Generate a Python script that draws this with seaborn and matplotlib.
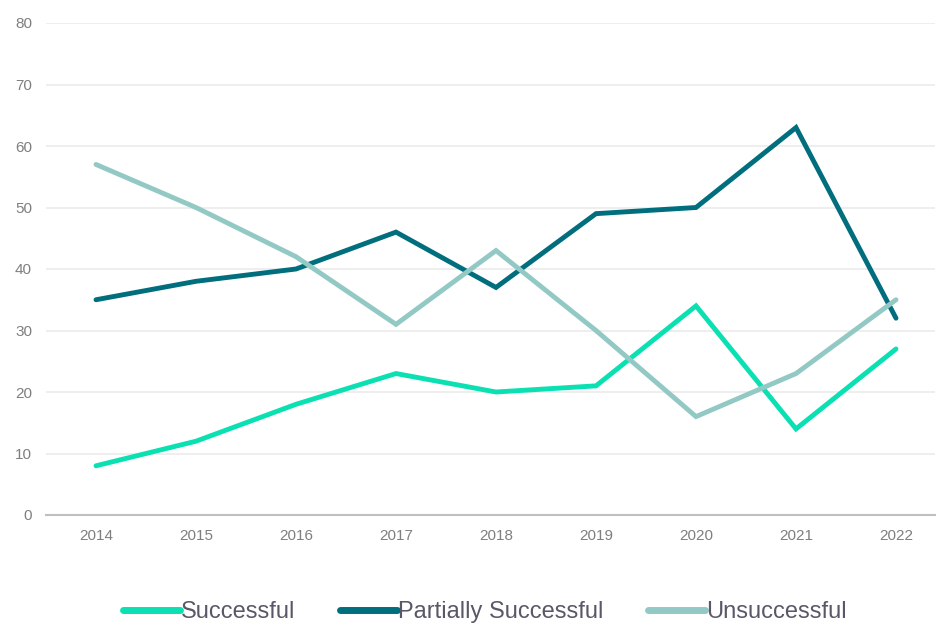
import matplotlib
matplotlib.use("Agg")
import matplotlib.pyplot as plt
import seaborn as sns
import pandas as pd

years = ["2014", "2015", "2016", "2017", "2018", "2019", "2020", "2021", "2022"]
successful = [8, 12, 18, 23, 20, 21, 34, 14, 27]
partially = [35, 38, 40, 46, 37, 49, 50, 63, 32]
unsuccessful = [57, 50, 42, 31, 43, 30, 16, 23, 35]
series_names = ["Successful", "Partially Successful", "Unsuccessful"]
colors = ["#0BE0B3", "#006E7D", "#93C9C4"]

df = pd.DataFrame({"Year": years * 3,
                   "Value": successful + partially + unsuccessful,
                   "Series": [s for s in series_names for _ in years]})

sns.set_style("white")
plt.rcParams['font.family'] = ['Liberation Sans', 'DejaVu Sans']

fig = plt.figure(figsize=(9.36, 6.26), dpi=100)
ax = fig.add_axes([46/936, 1 - 515/626, (935-46)/936, (515-23)/626])

sns.lineplot(data=df, x="Year", y="Value", hue="Series", palette=colors,
             linewidth=3.5, ax=ax, sort=False, legend=False)
for ln in ax.lines:
    ln.set_solid_capstyle("round")
    ln.set_solid_joinstyle("miter")

ax.set_ylim(0, 80)
ax.set_xlim(-0.5, 8.39)
ax.set_yticks(range(0, 81, 10))
ax.yaxis.grid(True, color="#EBEBEB", linewidth=1.2)
ax.set_axisbelow(True)
for s in ["top", "right", "left"]:
    ax.spines[s].set_visible(False)
ax.spines["bottom"].set_color("#BFBFBF")
ax.spines["bottom"].set_linewidth(1.5)
ax.tick_params(axis="both", length=0, labelsize=11, colors="#7F7F7F")
ax.tick_params(axis="y", pad=10)
ax.tick_params(axis="x", pad=10)
ax.set_xlabel("")
ax.set_ylabel("")

from matplotlib.lines import Line2D
handles = [Line2D([0], [0], color=c, lw=5, solid_capstyle="round") for c in colors]
leg = fig.legend(handles, series_names, loc="center", bbox_to_anchor=(0.518, 1 - 612/626),
                 ncol=3, frameon=False, fontsize=17, handlelength=2.4,
                 handletextpad=0.05, columnspacing=1.9, labelcolor="#5A5868")

fig.savefig("out.png", dpi=100)
